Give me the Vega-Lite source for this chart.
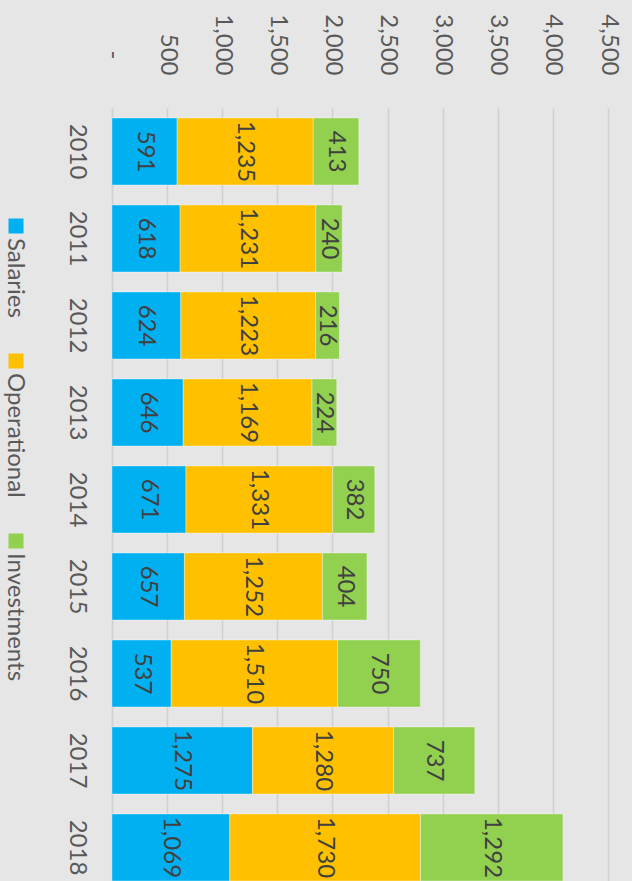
{
  "$schema": "https://vega.github.io/schema/vega-lite/v6.json",
  "width": 496,
  "height": 783,
  "autosize": {"type": "none"},
  "padding": {"left": 112, "top": 108, "right": 24, "bottom": 0},
  "background": "#e7e6e6",
  "config": {"font": "Lato", "view": {"stroke": null}},
  "data": {
    "values": [
      {"year": "2010", "cat": "Salaries", "value": 591},
      {"year": "2010", "cat": "Operational", "value": 1235},
      {"year": "2010", "cat": "Investments", "value": 413},
      {"year": "2011", "cat": "Salaries", "value": 618},
      {"year": "2011", "cat": "Operational", "value": 1231},
      {"year": "2011", "cat": "Investments", "value": 240},
      {"year": "2012", "cat": "Salaries", "value": 624},
      {"year": "2012", "cat": "Operational", "value": 1223},
      {"year": "2012", "cat": "Investments", "value": 216},
      {"year": "2013", "cat": "Salaries", "value": 646},
      {"year": "2013", "cat": "Operational", "value": 1169},
      {"year": "2013", "cat": "Investments", "value": 224},
      {"year": "2014", "cat": "Salaries", "value": 671},
      {"year": "2014", "cat": "Operational", "value": 1331},
      {"year": "2014", "cat": "Investments", "value": 382},
      {"year": "2015", "cat": "Salaries", "value": 657},
      {"year": "2015", "cat": "Operational", "value": 1252},
      {"year": "2015", "cat": "Investments", "value": 404},
      {"year": "2016", "cat": "Salaries", "value": 537},
      {"year": "2016", "cat": "Operational", "value": 1510},
      {"year": "2016", "cat": "Investments", "value": 750},
      {"year": "2017", "cat": "Salaries", "value": 1275},
      {"year": "2017", "cat": "Operational", "value": 1280},
      {"year": "2017", "cat": "Investments", "value": 737},
      {"year": "2018", "cat": "Salaries", "value": 1069},
      {"year": "2018", "cat": "Operational", "value": 1730},
      {"year": "2018", "cat": "Investments", "value": 1292}
    ]
  },
  "encoding": {
    "y": {
      "field": "year",
      "type": "ordinal",
      "scale": {"paddingInner": 0.23, "paddingOuter": 0.115},
      "axis": {
        "title": null,
        "labelAngle": 90,
        "labelAlign": "center",
        "labelBaseline": "middle",
        "labelPadding": 36,
        "labelFontSize": 24,
        "labelColor": "#595959",
        "ticks": false,
        "domainColor": "#d2d2d2",
        "domainWidth": 1.5
      }
    },
    "x": {
      "field": "value",
      "type": "quantitative",
      "stack": "zero",
      "scale": {"domain": [0, 4500], "nice": false},
      "axis": {
        "orient": "top",
        "title": null,
        "values": [0, 500, 1000, 1500, 2000, 2500, 3000, 3500, 4000, 4500],
        "labelExpr": "datum.value == 0 ? '-' : format(datum.value, ',')",
        "labelAngle": 90,
        "labelAlign": "right",
        "labelBaseline": "middle",
        "labelPadding": 33,
        "labelFontSize": 24,
        "labelColor": "#595959",
        "ticks": false,
        "domain": false,
        "grid": true,
        "gridColor": "#d0d0d0",
        "gridWidth": 1.5,
        "encoding": {"labels": {"dx": {"condition": {"test": "datum.value == 0", "value": -16}, "value": 0}}}
      }
    },
    "order": {"field": "cat", "sort": "descending"}
  },
  "layer": [
    {
      "mark": {"type": "bar", "stroke": "#ffffff", "strokeOpacity": 0.35, "strokeWidth": 1},
      "encoding": {
        "color": {
          "field": "cat",
          "type": "nominal",
          "scale": {"domain": ["Salaries", "Operational", "Investments"], "range": ["#00b0f0", "#ffc000", "#92d050"]},
          "legend": {
            "orient": "none",
            "legendX": -108,
            "legendY": 106,
            "direction": "vertical",
            "title": null,
            "padding": 0,
            "symbolType": "square",
            "symbolSize": 225,
            "symbolStrokeWidth": 0,
            "labelFontSize": 24,
            "labelColor": "#595959",
            "labelOffset": -7.5,
            "labelAlign": "left",
            "labelBaseline": "middle",
            "labelLimit": 0,
            "rowPadding": 31,
            "encoding": {"labels": {"angle": {"value": 90}, "dx": {"value": 12}, "dy": {"value": 6}}}
          }
        }
      }
    },
    {
      "mark": {"type": "text", "angle": 90, "align": "center", "baseline": "middle", "fontSize": 24, "color": "#404040"},
      "encoding": {
        "x": {"field": "value", "type": "quantitative", "stack": "zero", "bandPosition": 0.5},
        "detail": {"field": "cat"},
        "text": {"field": "value", "type": "quantitative", "format": ","}
      }
    }
  ]
}
